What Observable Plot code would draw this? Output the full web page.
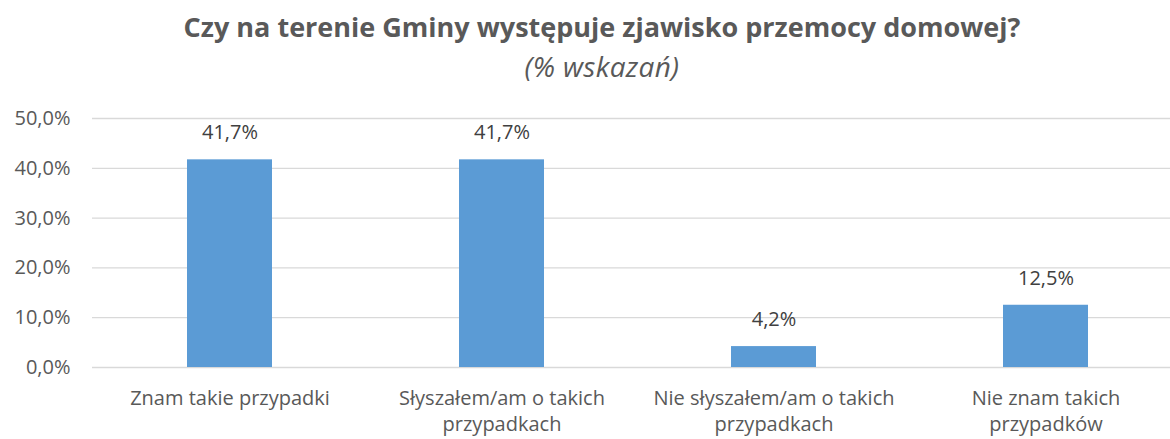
<!DOCTYPE html>
<html>
<head>
<meta charset="utf-8">
<script src="https://cdn.jsdelivr.net/npm/d3@7"></script>
<script src="https://cdn.jsdelivr.net/npm/@observablehq/plot@0.6"></script>
<style>
  html, body { margin: 0; padding: 0; background: #fff; overflow: hidden; width: 1170px; height: 439px; }
  #header { width: 1204px; height: 100px; text-align: center; font-family: "Open Sans", sans-serif; color: #595959; }
  #title { font-weight: bold; font-size: 27px; padding-top: 12px; line-height: 30px; height: 30px; }
  #subtitle { font-style: italic; font-size: 28px; line-height: 30px; margin-top: 9px; letter-spacing: 0.3px; }
  #chart svg { display: block; overflow: visible; max-width: none !important; }
</style>
</head>
<body>
<div id="header">
  <div id="title">Czy na terenie Gminy występuje zjawisko przemocy domowej?</div>
  <div id="subtitle">(% wskazań)</div>
</div>
<div id="chart"></div>
<script>
const categories = ["Znam takie przypadki", "Słyszałem/am o takich przypadkach", "Nie słyszałem/am o takich przypadkach", "Nie znam takich przypadków"];
const categoryLabels = ["Znam takie przypadki", "Słyszałem/am o takich\nprzypadkach", "Nie słyszałem/am o takich\nprzypadkach", "Nie znam takich\nprzypadków"];
const values = [41.7, 41.7, 4.2, 12.5];
const yTicks = [0, 10, 20, 30, 40, 50];

const data = categories.map((c, i) => ({category: c, value: values[i]}));
const labelOf = new Map(categories.map((c, i) => [c, categoryLabels[i]]));
const fmt = v => v.toFixed(1).replace(".", ",") + "%";

const chart = Plot.plot({
  width: 1182,
  height: 339,
  marginTop: 18,
  marginBottom: 72,
  marginLeft: 92,
  marginRight: 0,
  style: {fontFamily: "'Open Sans', sans-serif", color: "#595959", background: "#fff", maxWidth: "none"},
  x: {domain: categories, paddingInner: 0.688, paddingOuter: 0.344, label: null},
  y: {domain: [0, 50], label: null},
  marks: [
    Plot.gridY(yTicks, {stroke: "#d9d9d9", strokeOpacity: 1, strokeWidth: 1.3}),
    Plot.barY(data, {x: "category", y: "value", fill: "#5b9bd5"}),
    Plot.text(data, {x: "category", y: "value", text: d => fmt(d.value), dy: -27, fontSize: 20, fill: "#404040"}),
    Plot.axisY(yTicks, {tickSize: 0, tickPadding: 22, tickFormat: fmt, fontSize: 20, fill: "#595959", label: null}),
    Plot.axisX({tickSize: 0, tickPadding: 19, tickFormat: d => labelOf.get(d), fontSize: 20, lineHeight: 1.3, fill: "#595959", label: null})
  ]
});
document.getElementById("chart").appendChild(chart);
</script>
</body>
</html>
